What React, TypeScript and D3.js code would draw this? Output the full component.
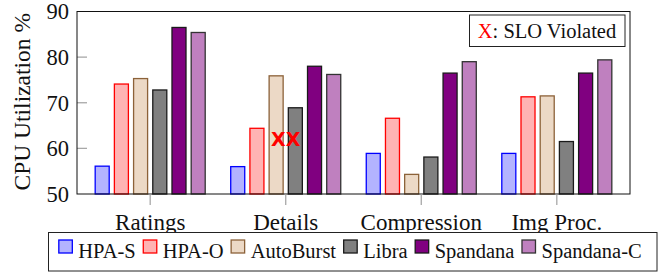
import React, { useEffect, useRef } from "react";
import * as d3 from "d3";

const categories = ["Ratings", "Details", "Compression", "Img Proc."];
const seriesNames = ["HPA-S", "HPA-O", "AutoBurst", "Libra", "Spandana", "Spandana-C"];
const hpaS = [56.1, 56.0, 58.9, 58.9];
const hpaO = [74.1, 64.4, 66.6, 71.3];
const autoBurst = [75.3, 75.9, 54.3, 71.5];
const libra = [72.8, 68.9, 58.1, 61.5];
const spandana = [86.5, 78.0, 76.5, 76.5];
const spandanaC = [85.4, 76.2, 79.0, 79.4];
const yTicks = [50, 60, 70, 80, 90];
const violationCategory = "Details";
const violationValue = 62;

const fills = ["#b3b3ff", "#ffb3b3", "#ecd9c6", "#808080", "#800080", "#bf80bf"];
const strokes = ["#0000ff", "#ff0000", "#8c6239", "#1a1a1a", "#1a1a1a", "#333333"];

const W = 662;
const H = 273;
const FONT = "'Liberation Serif', 'Times New Roman', serif";

export default function App() {
  const ref = useRef<SVGSVGElement | null>(null);

  useEffect(() => {
    const svg = d3.select(ref.current);
    svg.selectAll("*").remove();

    const values = [hpaS, hpaO, autoBurst, libra, spandana, spandanaC];
    const left = 77, right = 630, top = 11.5, bottom = 194;

    const x = d3.scalePoint<string>().domain(categories).range([left, right]).padding(0.54);
    const inner = d3.scaleBand<string>().domain(seriesNames).range([-57.6, 57.6]).paddingInner(0.27).paddingOuter(0.135);
    const y = d3.scaleLinear().domain([50, 90]).range([bottom, top]);

    // y ticks (inside, grey)
    svg.append("g").selectAll("line").data(yTicks.slice(1, -1)).join("line")
      .attr("x1", left).attr("x2", left + 10)
      .attr("y1", (d) => y(d)).attr("y2", (d) => y(d))
      .attr("stroke", "#a8a8a8").attr("stroke-width", 1.3);

    // bars
    seriesNames.forEach((name, si) => {
      svg.append("g").selectAll("rect").data(values[si]).join("rect")
        .attr("x", (_, i) => (x(categories[i]) as number) + (inner(name) as number))
        .attr("width", inner.bandwidth())
        .attr("y", (d) => y(d))
        .attr("height", (d) => y(50) - y(d))
        .attr("fill", fills[si])
        .attr("stroke", strokes[si])
        .attr("stroke-width", 1.3);
    });

    // frame
    svg.append("rect").attr("x", left).attr("y", top).attr("width", right - left).attr("height", bottom - top)
      .attr("fill", "none").attr("stroke", "#111").attr("stroke-width", 1);

    // x ticks (outside, grey)
    svg.append("g").selectAll("line").data(categories).join("line")
      .attr("x1", (d) => x(d) as number).attr("x2", (d) => x(d) as number)
      .attr("y1", bottom + 0.5).attr("y2", bottom + 11)
      .attr("stroke", "#a8a8a8").attr("stroke-width", 1.3);

    // y tick labels
    svg.append("g").selectAll("text").data(yTicks).join("text")
      .attr("x", 69).attr("y", (d) => y(d)).attr("dy", "0.35em")
      .attr("text-anchor", "end").attr("font-family", FONT).attr("font-size", 22.5).attr("fill", "#111")
      .text((d) => String(d));

    // x labels
    svg.append("g").selectAll("text").data(categories).join("text")
      .attr("x", (d) => x(d) as number).attr("y", 230)
      .attr("text-anchor", "middle").attr("font-family", FONT).attr("font-size", 23).attr("fill", "#111")
      .text((d) => d);

    // y axis label
    svg.append("text")
      .attr("transform", `translate(30,${(top + bottom) / 2 - 1}) rotate(-90)`)
      .attr("text-anchor", "middle").attr("font-family", FONT).attr("font-size", 23.5).attr("fill", "#111")
      .text("CPU Utilization %");

    // violation marks
    svg.append("text")
      .attr("x", x(violationCategory) as number).attr("y", y(violationValue)).attr("dy", "0.36em")
      .attr("text-anchor", "middle").attr("font-family", "'DejaVu Sans', sans-serif").attr("font-weight", "bold")
      .attr("font-size", 19).attr("fill", "#ff0000")
      .text("XX");

    // SLO box
    const slo = svg.append("g");
    slo.append("rect").attr("x", 469.5).attr("y", 15).attr("width", 155.5).attr("height", 31.5)
      .attr("fill", "#fff").attr("stroke", "#222").attr("stroke-width", 1);
    const sloText = slo.append("text").attr("x", 547).attr("y", 37.5).attr("text-anchor", "middle")
      .attr("font-family", FONT).attr("font-size", 20.5).attr("fill", "#111");
    sloText.append("tspan").attr("fill", "#ff0000").text("X");
    sloText.append("tspan").text(": SLO Violated");

    // legend
    const lg = svg.append("g");
    const boxL = 48.5, boxR = 657, boxT = 232.5, boxB = 271;
    lg.append("rect").attr("x", boxL).attr("y", boxT).attr("width", boxR - boxL).attr("height", boxB - boxT)
      .attr("fill", "#fff").attr("stroke", "#222").attr("stroke-width", 1);
    const items = lg.append("g");
    let cx = 0;
    seriesNames.forEach((name, si) => {
      const g = items.append("g").attr("transform", `translate(${cx},0)`);
      g.append("rect").attr("x", 0).attr("y", 240).attr("width", 13.5).attr("height", 13)
        .attr("fill", fills[si]).attr("stroke", strokes[si]).attr("stroke-width", 1.3);
      const t = g.append("text").attr("x", 19.5).attr("y", 257.5)
        .attr("font-family", FONT).attr("font-size", 20.5).attr("fill", "#111").text(name);
      const tw = (t.node() as SVGTextElement).getComputedTextLength();
      cx += 19.5 + tw + 7.6;
    });
    const total = cx - 7.6;
    const startX = (boxL + boxR) / 2 - total / 2 - 2.5;
    items.attr("transform", `translate(${startX},0)`);
  }, []);

  return (
    <svg ref={ref} width={W} height={H} style={{ position: "absolute", left: 0, top: 0, background: "#fff" }} />
  );
}
